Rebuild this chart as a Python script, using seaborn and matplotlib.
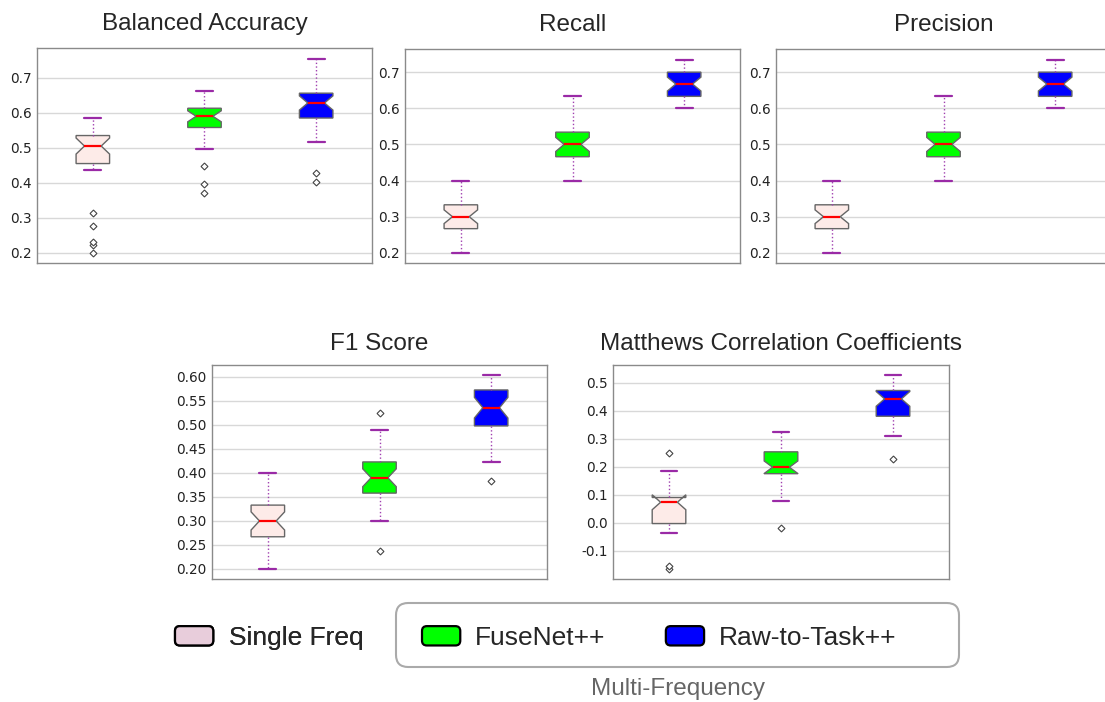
import pandas as pd
import matplotlib
matplotlib.use("Agg")
import matplotlib.pyplot as plt
import seaborn as sns
from matplotlib.patches import Patch, FancyBboxPatch
from matplotlib.legend_handler import HandlerPatch
from matplotlib.ticker import FormatStrFormatter

# Groups / colours
groups = ["Single Freq", "FuseNet++", "Raw-to-Task++"]
box_colors = {"Single Freq": "#fdebe8", "FuseNet++": "#00ff00", "Raw-to-Task++": "#0000ff"}
legend_colors = ["#e8cddb", "#00ff00", "#0000ff"]

# Per-run scores (30 runs per model)
ba_single = [0.2, 0.221, 0.231, 0.278, 0.313, 0.438, 0.447, 0.455, 0.455, 0.462,
             0.47, 0.478, 0.488, 0.497, 0.505, 0.505, 0.51, 0.515, 0.52, 0.525,
             0.53, 0.535, 0.535, 0.54, 0.545, 0.55, 0.56, 0.57, 0.578, 0.585]
ba_fuse = [0.371, 0.397, 0.447, 0.497, 0.515, 0.533, 0.547, 0.558, 0.558, 0.564,
           0.57, 0.576, 0.581, 0.586, 0.59, 0.59, 0.594, 0.598, 0.602, 0.606,
           0.609, 0.613, 0.613, 0.62, 0.627, 0.634, 0.642, 0.648, 0.655, 0.661]
ba_raw = [0.402, 0.428, 0.517, 0.535, 0.55, 0.563, 0.575, 0.585, 0.585, 0.592,
          0.6, 0.607, 0.614, 0.621, 0.628, 0.628, 0.633, 0.638, 0.643, 0.648,
          0.652, 0.656, 0.656, 0.665, 0.677, 0.69, 0.705, 0.72, 0.737, 0.754]

recall_single = [0.2, 0.2, 0.233, 0.233, 0.233, 0.267, 0.267, 0.267, 0.267, 0.267,
                 0.3, 0.3, 0.3, 0.3, 0.3, 0.3, 0.3, 0.3, 0.333, 0.333,
                 0.333, 0.333, 0.333, 0.333, 0.367, 0.367, 0.367, 0.4, 0.4, 0.4]
recall_fuse = [0.4, 0.4, 0.433, 0.433, 0.433, 0.466, 0.466, 0.466, 0.466, 0.466,
               0.5, 0.5, 0.5, 0.5, 0.5, 0.5, 0.5, 0.5, 0.534, 0.534,
               0.534, 0.534, 0.534, 0.534, 0.567, 0.567, 0.6, 0.6, 0.633, 0.633]
recall_raw = [0.6, 0.6, 0.6, 0.6, 0.633, 0.633, 0.633, 0.633, 0.633, 0.633,
              0.667, 0.667, 0.667, 0.667, 0.667, 0.667, 0.667, 0.667, 0.7, 0.7,
              0.7, 0.7, 0.7, 0.7, 0.7, 0.7, 0.733, 0.733, 0.733, 0.733]

# precision boxes look identical to recall in the figure
precision_single = list(recall_single)
precision_fuse = list(recall_fuse)
precision_raw = list(recall_raw)

f1_single = [0.2, 0.22, 0.233, 0.24, 0.25, 0.257, 0.262, 0.267, 0.267, 0.273,
             0.28, 0.286, 0.29, 0.296, 0.3, 0.3, 0.305, 0.31, 0.316, 0.322,
             0.328, 0.333, 0.333, 0.34, 0.35, 0.36, 0.37, 0.38, 0.39, 0.4]
f1_fuse = [0.238, 0.299, 0.31, 0.322, 0.333, 0.342, 0.35, 0.358, 0.358, 0.363,
           0.369, 0.375, 0.38, 0.385, 0.39, 0.39, 0.395, 0.4, 0.405, 0.41,
           0.416, 0.423, 0.423, 0.43, 0.44, 0.45, 0.46, 0.475, 0.49, 0.526]
f1_raw = [0.383, 0.423, 0.44, 0.455, 0.47, 0.48, 0.49, 0.498, 0.498, 0.505,
          0.512, 0.52, 0.526, 0.531, 0.536, 0.536, 0.542, 0.548, 0.555, 0.56,
          0.566, 0.573, 0.573, 0.577, 0.582, 0.586, 0.59, 0.595, 0.6, 0.604]

mcc_single = [-0.163, -0.155, -0.035, -0.025, -0.015, -0.01, -0.005, -0.002, -0.002, 0.01,
              0.025, 0.04, 0.055, 0.065, 0.074, 0.074, 0.077, 0.08, 0.083, 0.086,
              0.089, 0.091, 0.091, 0.1, 0.115, 0.13, 0.15, 0.17, 0.185, 0.251]
mcc_fuse = [-0.017, 0.077, 0.1, 0.12, 0.14, 0.155, 0.168, 0.176, 0.176, 0.18,
            0.185, 0.19, 0.194, 0.197, 0.199, 0.199, 0.208, 0.218, 0.228, 0.238,
            0.246, 0.254, 0.254, 0.262, 0.272, 0.282, 0.293, 0.303, 0.315, 0.325]
mcc_raw = [0.227, 0.31, 0.33, 0.345, 0.358, 0.368, 0.375, 0.381, 0.381, 0.392,
           0.403, 0.414, 0.425, 0.435, 0.443, 0.443, 0.448, 0.453, 0.458, 0.463,
           0.468, 0.473, 0.473, 0.48, 0.488, 0.496, 0.505, 0.513, 0.521, 0.529]

titles = ["Balanced Accuracy", "Recall", "Precision", "F1 Score",
          "Matthews Correlation Coefficients"]
metric_data = [
    (ba_single, ba_fuse, ba_raw),
    (recall_single, recall_fuse, recall_raw),
    (precision_single, precision_fuse, precision_raw),
    (f1_single, f1_fuse, f1_raw),
    (mcc_single, mcc_fuse, mcc_raw),
]

sns.set_style("whitegrid")
plt.rcParams["font.family"] = ["DejaVu Sans"]
plt.rcParams["axes.unicode_minus"] = False

W, H = 1105, 702
fig = plt.figure(figsize=(W / 100, H / 100), dpi=100)

# axes boxes in pixels: left, top, right, bottom
ax_px = [(37, 48, 372, 263), (405, 49, 740, 263), (776, 49, 1111, 263),
         (212, 365, 547, 579), (613, 365, 949, 579)]
ylims = [(0.171, 0.785), (0.172, 0.764), (0.172, 0.764), (0.179, 0.625), (-0.2, 0.564)]
yticks = [[0.2, 0.3, 0.4, 0.5, 0.6, 0.7]] * 3 + \
         [[0.2, 0.25, 0.3, 0.35, 0.4, 0.45, 0.5, 0.55, 0.6],
          [-0.1, 0.0, 0.1, 0.2, 0.3, 0.4, 0.5]]
fmts = ["%.1f", "%.1f", "%.1f", "%.2f", "%.1f"]
title_pads = [13, 13, 13, 11, 11]

for i, title in enumerate(titles):
    l, t, r, b = ax_px[i]
    ax = fig.add_axes([l / W, 1 - b / H, (r - l) / W, (b - t) / H])
    rows = []
    for g, vals in zip(groups, metric_data[i]):
        for v in vals:
            rows.append({"model": g, "score": v})
    df = pd.DataFrame(rows)
    sns.boxplot(data=df, x="model", y="score", hue="model", order=groups,
                palette=box_colors, saturation=1, legend=False, ax=ax,
                width=0.3, notch=True, linecolor="#666666", linewidth=1,
                fliersize=3.5,
                medianprops={"color": "red", "linewidth": 1.6},
                whiskerprops={"color": "#a040b0", "linestyle": ":", "linewidth": 1},
                capprops={"color": "#9a2aa6", "linewidth": 1.6},
                flierprops={"marker": "D", "markerfacecolor": "white",
                            "markeredgecolor": "#444444", "markeredgewidth": 0.8})
    ax.set_xlim(-0.5, 2.5)
    ax.set_ylim(*ylims[i])
    ax.set_yticks(yticks[i])
    ax.yaxis.set_major_formatter(FormatStrFormatter(fmts[i]))
    ax.set_xticks([])
    ax.set_xlabel("")
    ax.set_ylabel("")
    ax.grid(axis="y", color="#d8d8d8", linewidth=1)
    ax.grid(axis="x", visible=False)
    ax.tick_params(axis="y", length=0, pad=4, labelsize=9.8, colors="#222222")
    for s in ax.spines.values():
        s.set_color("#8a8a8a")
        s.set_linewidth(1)
    ax.set_title(title, fontsize=17.5, family=["Liberation Sans", "DejaVu Sans"],
                 pad=title_pads[i])


class RoundHandler(HandlerPatch):
    def create_artists(self, legend, orig_handle, xdescent, ydescent,
                       width, height, fontsize, trans):
        p = FancyBboxPatch((-xdescent, -ydescent), width, height,
                           boxstyle="round,pad=0,rounding_size=3.5",
                           facecolor=orig_handle.get_facecolor(),
                           edgecolor="black", linewidth=1.6)
        p.set_transform(trans)
        return [p]


handles = [Patch(facecolor=c, label=g) for c, g in zip(legend_colors, groups)]
leg_font = {"family": "Liberation Sans", "size": 19}

leg1 = fig.legend(handles=handles[:1], loc="center left",
                  bbox_to_anchor=(175 / W, 1 - 638 / H), frameon=False,
                  prop=leg_font, handlelength=1.45, handleheight=0.75,
                  handletextpad=0.6, borderpad=0, borderaxespad=0,
                  handler_map={Patch: RoundHandler()})
fig.add_artist(leg1)
fig.legend(handles=handles[1:], loc="center left", ncol=2,
           bbox_to_anchor=(422 / W, 1 - 638 / H), frameon=False,
           prop=leg_font, handlelength=1.45, handleheight=0.75,
           handletextpad=0.55, columnspacing=2.3, borderpad=0, borderaxespad=0,
           handler_map={Patch: RoundHandler()})

frame = FancyBboxPatch((396 / W, 1 - 667 / H), 563 / W, 64 / H,
                       boxstyle="round,pad=0,rounding_size=0.011",
                       mutation_aspect=W / H, transform=fig.transFigure,
                       facecolor="none", edgecolor="#aaaaaa", linewidth=1.5)
fig.add_artist(frame)
fig.text(678 / W, 1 - 689 / H, "Multi-Frequency", ha="center", va="center",
         fontsize=17.5, color="#666666", family="Liberation Sans")

fig.savefig("out.png", dpi=100)
